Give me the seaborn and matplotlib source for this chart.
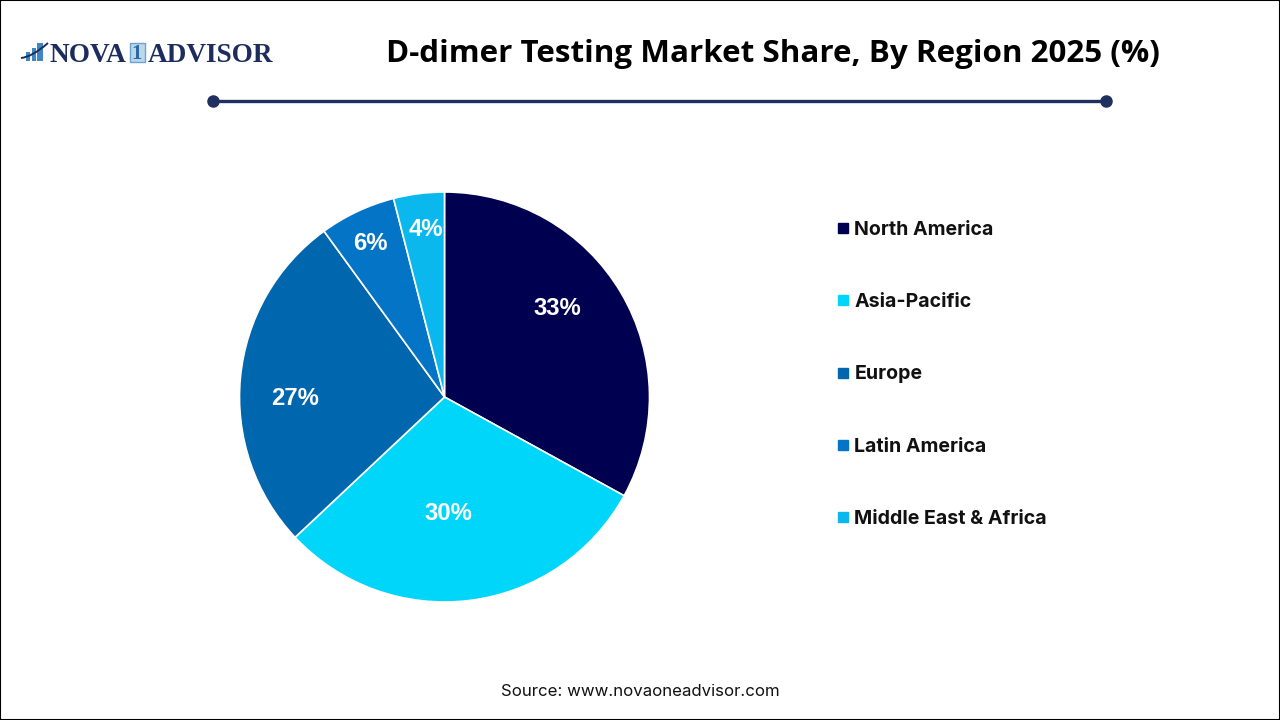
import matplotlib
matplotlib.use("Agg")
import matplotlib.pyplot as plt
from matplotlib.lines import Line2D
from matplotlib.patches import Rectangle, PathPatch
from matplotlib.path import Path
import seaborn as sns

regions = ["North America", "Asia-Pacific", "Europe", "Latin America", "Middle East & Africa"]
shares = [33, 30, 27, 6, 4]
colors = ["#000050", "#00D5FA", "#0066AD", "#0474C6", "#0AB8EE"]
title = "D-dimer Testing Market Share, By Region 2025 (%)"
source = "Source: www.novaoneadvisor.com"

sns.set_theme(style="white")
W, H = 1280, 720
fig = plt.figure(figsize=(12.8, 7.2), dpi=100, facecolor="white")

def fx(x): return x / W
def fy(y): return 1 - y / H

# pie
R = 205
ax = fig.add_axes([fx(444.5 - R), fy(397 + R), 2 * R / W, 2 * R / H])
wedges, _ = ax.pie(shares, colors=colors, startangle=90, counterclock=False,
                   wedgeprops=dict(edgecolor="white", linewidth=1.2), radius=1)
ax.set_xlim(-1, 1)
ax.set_ylim(-1, 1)
ax.set_aspect("equal")
ax.axis("off")

# label anchor points inside the pie, in axes data units
label_xy = [(0.549, 0.434), (0.017, -0.567), (-0.729, -0.005), (-0.363, 0.751), (-0.09, 0.819)]
for s, (lx, ly) in zip(shares, label_xy):
    ax.text(lx, ly, f"{s}%", ha="center", va="center", color="white",
            fontsize=17.2, fontweight="bold", family="Liberation Sans")

# legend
handles = [Line2D([], [], marker="s", linestyle="none", markersize=7, color=c) for c in colors]
leg = fig.legend(handles, regions, loc="upper left", bbox_to_anchor=(fx(823), fy(221)),
                 frameon=False, handletextpad=-0.40, labelspacing=2.77, borderpad=0, borderaxespad=0,
                 prop=dict(family="Inter", weight="bold", size=14.1))
for t in leg.get_texts():
    t.set_color("#111111")

# title, rule, source
fig.text(fx(773), fy(54), title, ha="center", va="center", fontsize=22.55, fontweight="bold",
         family="Open Sans", color="black")
fig.add_artist(Line2D([fx(213), fx(1106)], [fy(101), fy(101)], color="#1F2F60", lw=2.4,
                      marker="o", markersize=8, transform=fig.transFigure))
fig.text(fx(640), fy(691), source, ha="center", va="center", fontsize=12.1,
         family="Inter", color="#111111")

# logo
navy = "#1D2C5E"
blue = "#3F86C4"
fig.text(fx(49), fy(55), "NOVA", ha="left", va="center", fontsize=19.6, fontweight="bold",
         family="Liberation Serif", color=navy)
fig.text(fx(148), fy(55), "ADVISOR", ha="left", va="center", fontsize=19.6, fontweight="bold",
         family="Liberation Serif", color=navy)
fig.add_artist(Rectangle((fx(129.5), fy(62)), 15 / W, 19 / H, transform=fig.transFigure,
                         facecolor="#BCD6EA", edgecolor="#6FA3CC", lw=1))
fig.text(fx(137), fy(54), "1", ha="center", va="center", fontsize=15, fontweight="bold",
         family="Liberation Serif", color="#2A6AA5")
for x0, wd, top in [(26, 4, 52), (32, 4, 48), (37, 6, 43)]:
    fig.add_artist(Rectangle((fx(x0), fy(61)), wd / W, (61 - top) / H, transform=fig.transFigure,
                             facecolor=blue, edgecolor="none"))
swoosh = Path([(fx(21), fy(58)), (fx(32), fy(57)), (fx(48), fy(43))],
              [Path.MOVETO, Path.CURVE3, Path.CURVE3])
fig.add_artist(PathPatch(swoosh, transform=fig.transFigure, facecolor="none", edgecolor=navy, lw=1.4))

# border
fig.add_artist(Rectangle((0, 0), 1, 1, transform=fig.transFigure, facecolor="none",
                         edgecolor="black", lw=1.5))

fig.savefig("out.png", dpi=100, facecolor="white")
